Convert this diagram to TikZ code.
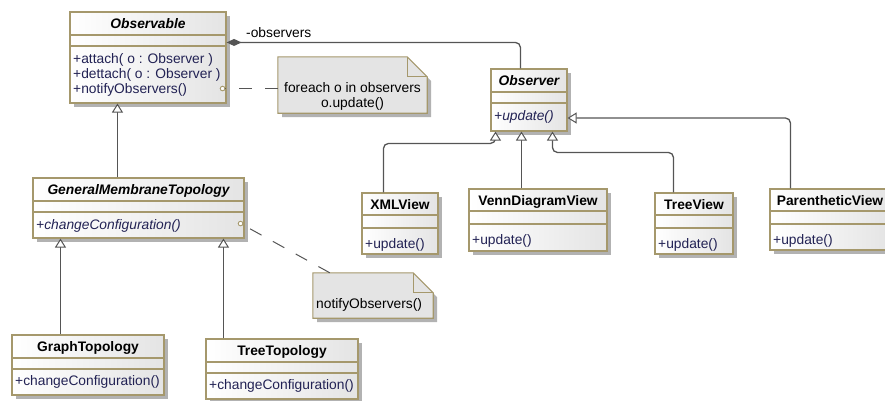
\documentclass[tikz,border=0pt]{standalone}
\usepackage{fontspec}
\setmainfont{Liberation Sans}
\usetikzlibrary{arrows.meta}

\definecolor{umlborder}{RGB}{165,152,108}
\definecolor{umlshadow}{RGB}{178,178,178}
\definecolor{umlops}{RGB}{34,34,84}
\definecolor{umlwire}{RGB}{85,85,85}
\definecolor{umlnotefill}{RGB}{228,228,228}
\definecolor{umlfillb}{RGB}{228,228,228}

\tikzset{
  umlfont/.style={font=\fontsize{13.8}{15}\selectfont},
  classshadow/.style={fill=umlshadow},
  classbox/.style={draw=umlborder, line width=1.1pt, left color=white, right color=umlfillb, inner sep=0pt},
  classline/.style={draw=umlborder, line width=1.1pt},
  classtitle/.style={umlfont, anchor=base, inner sep=0pt},
  classops/.style={umlfont, anchor=north west, inner sep=0pt, align=left, text=umlops},
  notebox/.style={draw=umlborder, line width=1.1pt, fill=umlnotefill},
  notefold/.style={draw=umlborder, line width=1.1pt},
  notetext/.style={umlfont, inner sep=0pt, align=center},
  wire/.style={draw=umlwire, line width=1.3pt},
  generalization/.style={wire, rounded corners=5pt,
    -{Triangle[length=9pt,width=11pt,fill=white,line width=1pt]}},
  composition/.style={wire, rounded corners=5pt,
    {Diamond[length=15pt,width=7pt,fill=umlwire]}-},
  notelink/.style={draw=umlwire, line width=1pt, dash pattern=on 13pt off 13pt},
  anchorring/.style={circle, draw=umlborder, fill=white, line width=0.8pt,
    minimum size=4.5pt, inner sep=0pt},
}

% baseline drop of the first operation below the operations compartment top
\def\opsdrop{17}

% class box: name, x1, y1, x2, y2, title height, empty height, title, operations
\newcommand\umlclass[9]{%
  \fill[classshadow] (#2+4,#3+4) rectangle (#4+4,#5+4);
  \node[classbox, minimum width={(#4-#2)*1pt}, minimum height={(#5-#3)*1pt}]
    (#1) at ({(#2+#4)/2},{(#3+#5)/2}) {};
  \draw[classline] (#2,#3+#6) -- (#4,#3+#6) (#2,#3+#6+#7) -- (#4,#3+#6+#7);
  \node[classtitle] (#1-title) at ({(#2+#4)/2},#3+16.5) {#8};
  \node[classops] (#1-ops) at (#2+3,#3+#6+#7+\opsdrop-10.5) {\strut #9};
}

% note with folded corner: name, x1, y1, x2, y2, fold size
\newcommand\umlnote[6]{%
  \fill[classshadow] (#2+4,#3+4) -- (#4-#6+4,#3+4) -- (#4+4,#3+#6+4)
    -- (#4+4,#5+4) -- (#2+4,#5+4) -- cycle;
  \node[inner sep=0pt, minimum width={(#4-#2)*1pt}, minimum height={(#5-#3)*1pt}]
    (#1) at ({(#2+#4)/2},{(#3+#5)/2}) {};
  \draw[notebox] (#1.north west) -- ([xshift=-#6pt]#1.north east)
    -- ([yshift=-#6pt]#1.north east) -- (#1.south east) -- (#1.south west) -- cycle;
  \draw[notefold] ([xshift=-#6pt]#1.north east) |- ([yshift=-#6pt]#1.north east);
}

\begin{document}
\begin{tikzpicture}[x=1pt, y=-1pt]
\useasboundingbox (0,0) rectangle (885,400);
\clip (0,0) rectangle (885,400);

% subject side
\umlclass{observable}{70}{12}{226}{103}{23}{11}{\bfseries\itshape Observable}
  {+attach( o : Observer )\\+dettach( o : Observer )\\+notifyObservers()}
\umlclass{gmt}{33}{178}{244}{238}{23}{11}{\bfseries\itshape GeneralMembraneTopology}
  {\itshape +changeConfiguration()}
\umlclass{observer}{491}{69}{567}{131}{23}{11}{\bfseries\itshape Observer}
  {\itshape +update()}

% concrete views
\def\opsdrop{20}
\umlclass{xmlview}{362}{193}{438}{254}{22}{13}{\bfseries XMLView}{+update()}
\umlclass{venn}{469}{189}{607}{251}{22}{13}{\bfseries VennDiagramView}{+update()}
\umlclass{treeview}{655}{193}{733}{254}{22}{13}{\bfseries TreeView}{+update()}
\umlclass{parenth}{770}{189}{890}{250}{22}{13}{\bfseries ParentheticView}{+update()}

% concrete topologies
\def\opsdrop{16}
\umlclass{graphtop}{12}{335}{164}{395}{23}{11}{\bfseries GraphTopology}{+changeConfiguration()}
\umlclass{treetop}{206}{339}{358}{399}{23}{11}{\bfseries TreeTopology}{+changeConfiguration()}

% notes
\umlnote{loopnote}{278}{57}{427}{113}{20}
\node[notetext, anchor=north] (loopnote-text) at (352.5,81.5)
  {\strut foreach o in observers\\o.update()};
\umlnote{notifynote}{313}{273}{433}{318}{20}
\node[umlfont, inner sep=0pt, anchor=base west] (notifynote-text) at (316,308)
  {notifyObservers()};

% note attachments
\node[anchorring] (obsring) at ([xshift=-4pt,yshift=15pt]observable.south east) {};
\node[anchorring] (gmtring) at ([xshift=-4pt,yshift=15pt]gmt.south east) {};
\draw[notelink] (loopnote.west |- obsring) -- (obsring.center);
\draw[notelink] ([xshift=17pt]notifynote.north west) -- (gmtring.center);
\node[anchorring] at (obsring) {};
\node[anchorring] at (gmtring) {};

% association to the observers
\draw[composition] ([yshift=-31pt]observable.north east) -| ([xshift=30pt]observer.north west);
\node[umlfont, inner sep=0pt, anchor=base west] (rolelabel) at (246,37) {-observers};

% generalizations
\coordinate (gmt-up) at ([xshift=85pt]gmt.north west);
\draw[generalization] (gmt-up) -- (gmt-up |- observable.south);
\coordinate (graph-up) at ([xshift=49pt]graphtop.north west);
\draw[generalization] (graph-up) -- (graph-up |- gmt.south);
\coordinate (ttop-up) at ([xshift=18pt]treetop.north west);
\draw[generalization] (ttop-up) -- (ttop-up |- gmt.south);

\coordinate (xml-up) at ([xshift=22pt]xmlview.north west);
\coordinate (xml-in) at ([xshift=5pt]observer.south west);
\draw[generalization] (xml-up) -- ++(0,-49) -| (xml-in);
\coordinate (venn-up) at ([xshift=53pt]venn.north west);
\draw[generalization] (venn-up) -- (venn-up |- observer.south);
\coordinate (tree-up) at ([xshift=19pt]treeview.north west);
\coordinate (tree-in) at ([xshift=62pt]observer.south west);
\draw[generalization] (tree-up) -- ++(0,-40) -| (tree-in);
\coordinate (par-up) at ([xshift=21pt]parenth.north west);
\draw[generalization] (par-up) |- ([yshift=-18pt]observer.east);
\end{tikzpicture}
\end{document}
